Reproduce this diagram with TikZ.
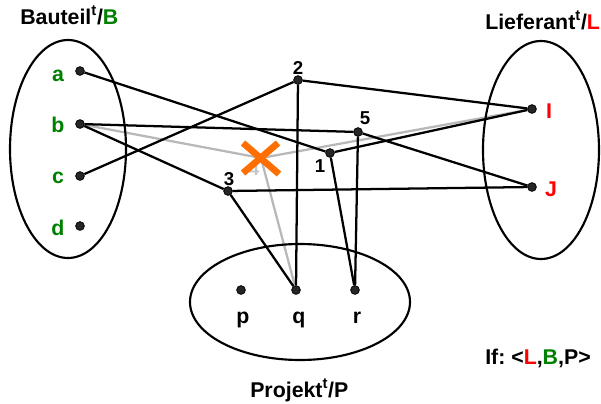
\documentclass[tikz,border=0pt]{standalone}
\usepackage{fontspec}
\setmainfont{Liberation Sans}
\usetikzlibrary{backgrounds}
\definecolor{grn}{RGB}{0,128,0}
\definecolor{xorange}{RGB}{255,110,0}
\tikzset{
  dot/.style={circle,fill=black!85,draw=black,line width=0.6pt,inner sep=0pt,minimum size=6.5pt},
  edge/.style={line width=1.7pt,black},
  gedge/.style={line width=1.7pt,black!28},
  big/.style={font=\fontsize{16}{19}\selectfont\bfseries,inner sep=0pt},
  num/.style={font=\fontsize{14}{17}\selectfont\bfseries,inner sep=0pt,anchor=base},
  setell/.style={draw,line width=1.6pt}
}
\begin{document}
\begin{tikzpicture}[x=0.75pt,y=-0.75pt]
\useasboundingbox (0,0) rectangle (601,404);
% sets
\draw[setell] (68,149) ellipse [x radius=58,y radius=109];
\draw[setell] (541,150) ellipse [x radius=58,y radius=109];
\draw[setell] (300,302) ellipse [x radius=110,y radius=58];
% titles
\node[big,anchor=base west] (tB) at (20,24) {Bauteil\textsuperscript{t}/\textcolor{grn}{B}};
\node[big,anchor=base west] (tL) at (485,29) {Lieferant\textsuperscript{t}/\textcolor{red}{L}};
\node[big,anchor=base west] (tP) at (250,397) {Projekt\textsuperscript{t}/P};
\node[big,anchor=base west] (tIf) at (485,364) {\frenchspacing If: <\textcolor{red}{L},\textcolor{grn}{B},P>};
% element labels
\node[big,anchor=base,text=grn] (la) at (58,81) {a};
\node[big,anchor=base,text=grn] (lb) at (58,132) {b};
\node[big,anchor=base,text=grn] (lc) at (58,183) {c};
\node[big,anchor=base,text=grn] (ld) at (58,235) {d};
\node[big,anchor=base,text=red] (lI) at (549,118) {I};
\node[big,anchor=base,text=red] (lJ) at (551,196) {J};
\node[big,anchor=base] (lp) at (243,323) {p};
\node[big,anchor=base] (lq) at (299,323) {q};
\node[big,anchor=base] (lr) at (357,323) {r};
% relationship labels
\node[num] (l2) at (298,74) {2};
\node[num] (l5) at (365,124) {5};
\node[num] (l1) at (320,172) {1};
\node[num] (l3) at (229,185) {3};
\node[num,text=black!22] (l4) at (254,175) {4};
% dots
\node[dot] (a) at (80,71) {};
\node[dot] (b) at (80,124) {};
\node[dot] (c) at (80,176) {};
\node[dot] (d) at (80,226) {};
\node[dot] (I) at (532,109) {};
\node[dot] (J) at (532,187) {};
\node[dot] (p) at (241,290) {};
\node[dot] (q) at (296,290) {};
\node[dot] (r) at (355,290) {};
\node[dot] (n2) at (298,80) {};
\node[dot] (n5) at (358,132) {};
\node[dot] (n1) at (330,153) {};
\node[dot] (n3) at (228,191) {};
\coordinate (n4) at (261,158);
% connectors
\begin{scope}[on background layer]
\draw[gedge] (b) -- (n4);
\draw[gedge] (n4) -- (I);
\draw[gedge] (n4) -- (q);
\draw[edge] (a) -- (n1);
\draw[edge] (b) -- (n5);
\draw[edge] (b) -- (n3);
\draw[edge] (c) -- (n2);
\draw[edge] (n2) -- (I);
\draw[edge] (n2) -- (q);
\draw[edge] (n5) -- (J);
\draw[edge] (n5) -- (r);
\draw[edge] (n1) -- (I);
\draw[edge] (n1) -- (r);
\draw[edge] (n3) -- (J);
\draw[edge] (n3) -- (q);
\end{scope}
% cross
\draw[xorange,line width=5pt] ([shift={(-18,-15)}]n4) -- ([shift={(18,16)}]n4)
  ([shift={(17,-15)}]n4) -- ([shift={(-18,15)}]n4);
\end{tikzpicture}
\end{document}
